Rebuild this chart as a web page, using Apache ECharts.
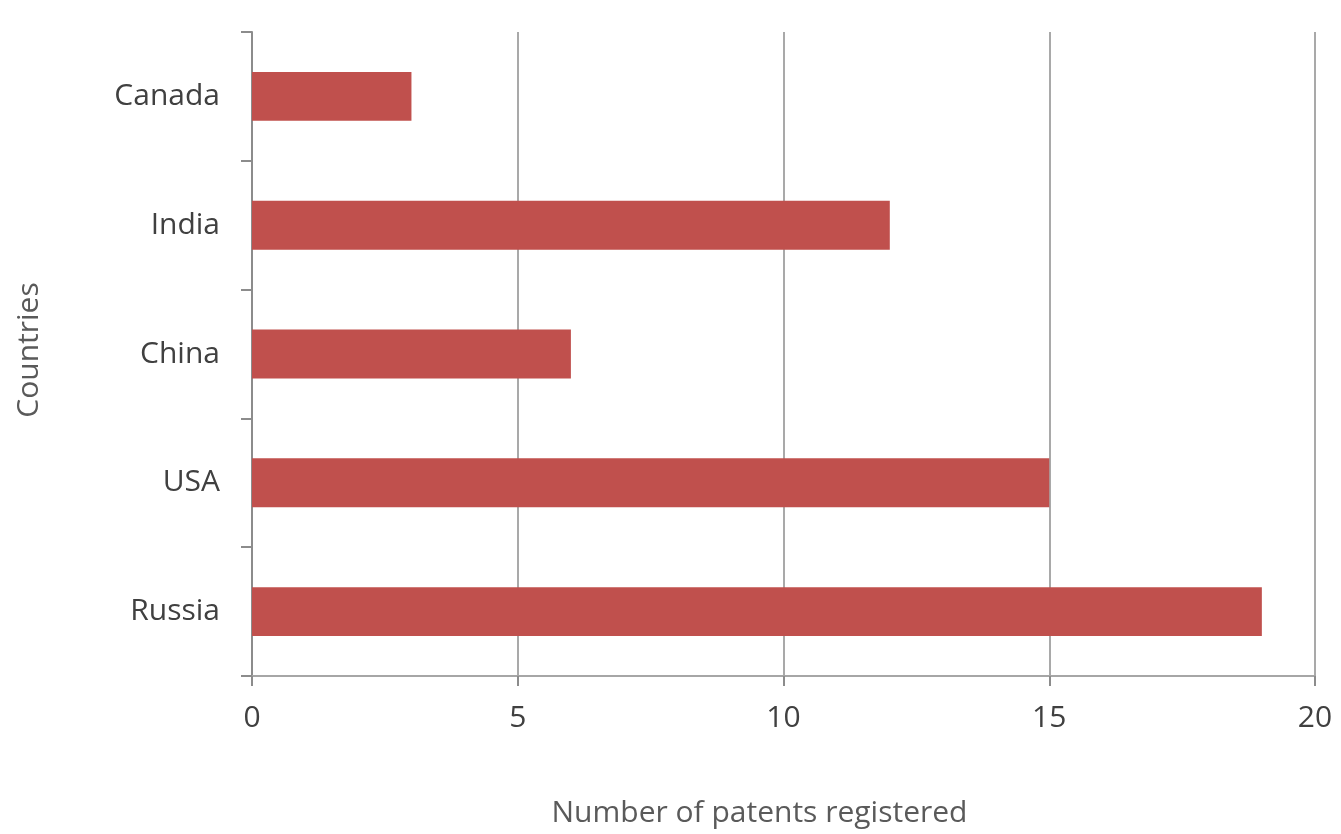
<!DOCTYPE html>
<html>
<head>
<meta charset="utf-8">
<script src="https://cdn.jsdelivr.net/npm/echarts@6/dist/echarts.min.js"></script>
<style>
  html, body { margin: 0; padding: 0; background: #fff; }
  #chart { width: 1341px; height: 834px; }
</style>
</head>
<body>
<div id="chart"></div>
<script>
// Patent counts by country (top to bottom as drawn)
const countries = ['Canada', 'India', 'China', 'USA', 'Russia'];
const patents = [3, 12, 6, 15, 19];
const xTicks = { min: 0, max: 20, interval: 5 };

const chart = echarts.init(document.getElementById('chart'));
const fontFamily = '"Open Sans", "Noto Sans", sans-serif';

chart.setOption({
  animation: false,
  backgroundColor: '#ffffff',
  grid: { left: 252, right: 26, top: 32, bottom: 158, containLabel: false },
  xAxis: {
    type: 'value',
    min: xTicks.min,
    max: xTicks.max,
    interval: xTicks.interval,
    name: 'Number of patents registered',
    nameLocation: 'middle',
    nameGap: 122,
    nameTextStyle: { fontFamily, fontSize: 30, color: '#5a5a5a', padding: [0, 48, 0, 0] },
    axisLine: { show: true, lineStyle: { color: '#a6a6a6', width: 2 } },
    axisTick: { show: true, length: 10, lineStyle: { color: '#8c8c8c', width: 2 } },
    axisLabel: { fontFamily, fontSize: 30, color: '#404040', margin: 27 },
    splitLine: { show: true, lineStyle: { color: '#8c8c8c', width: 1.5 } }
  },
  yAxis: {
    type: 'category',
    data: countries,
    inverse: true,
    name: 'Countries',
    nameLocation: 'middle',
    nameGap: 208,
    nameTextStyle: { fontFamily, fontSize: 30, color: '#5a5a5a', padding: [0, 0, 0, 8] },
    axisLine: { show: true, lineStyle: { color: '#8c8c8c', width: 2 } },
    axisTick: { show: true, length: 11, lineStyle: { color: '#8c8c8c', width: 2 } },
    axisLabel: { fontFamily, fontSize: 30, color: '#404040', margin: 32 }
  },
  series: [{
    type: 'bar',
    data: patents,
    barCategoryGap: '62%',
    itemStyle: { color: '#c0504d' },
    z: 3
  }]
});
</script>
</body>
</html>
